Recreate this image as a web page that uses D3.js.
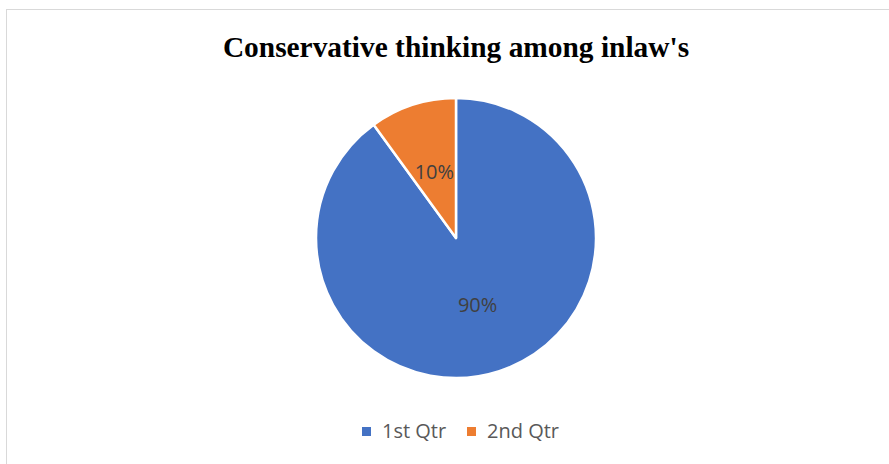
<!DOCTYPE html>
<html>
<head>
<meta charset="utf-8">
<script src="https://cdn.jsdelivr.net/npm/d3@7"></script>
<style>
body{margin:0;background:#fff;}
</style>
</head>
<body>
<div id="chart"></div>
<script>
var categories = ["1st Qtr", "2nd Qtr"];
var values = [90, 10];
var labels = ["90%", "10%"];
var colors = ["#4472C4", "#ED7D31"];

var w = 889, h = 464;
var cx = 456, cy = 238, radius = 140;

var svg = d3.select("#chart").append("svg").attr("width", w).attr("height", h);

// chart frame, runs off the right and bottom edge
svg.append("rect")
    .attr("x", 6.5).attr("y", 9.5)
    .attr("width", 900).attr("height", 480)
    .attr("fill", "#fff")
    .attr("stroke", "#d9d9d9")
    .attr("stroke-width", 1);

svg.append("text")
    .attr("x", 456).attr("y", 57)
    .attr("text-anchor", "middle")
    .style("font-family", "'Liberation Serif', 'Times New Roman', serif")
    .style("font-weight", "bold")
    .style("font-size", "29.4px")
    .attr("fill", "#000")
    .text("Conservative thinking among inlaw's");

var data = categories.map(function(c, i){ return {cat: c, value: values[i], label: labels[i], color: colors[i]}; });

var pie = d3.pie().sort(null).value(function(d){ return d.value; });
var arc = d3.arc().innerRadius(0).outerRadius(radius);

var g = svg.append("g").attr("transform", "translate(" + cx + "," + cy + ")");

g.selectAll("path")
    .data(pie(data))
    .enter()
    .append("path")
    .attr("d", arc)
    .attr("fill", function(d){ return d.data.color; })
    .attr("stroke", "#fff")
    .attr("stroke-width", 2.5)
    .attr("stroke-linejoin", "round");

g.selectAll("text")
    .data(pie(data))
    .enter()
    .append("text")
    .attr("transform", function(d){ return "translate(" + arc.centroid(d) + ")"; })
    .attr("text-anchor", "middle")
    .attr("dy", "0.36em")
    .style("font-family", "'Open Sans', 'Noto Sans', sans-serif")
    .style("font-size", "20px")
    .attr("fill", "#404040")
    .text(function(d){ return d.data.label; });

// legend
var legendX = [362, 467];
var legend = svg.append("g").selectAll("g")
    .data(data)
    .enter()
    .append("g")
    .attr("transform", function(d, i){ return "translate(" + legendX[i] + ",431)"; });

legend.append("rect")
    .attr("x", 0).attr("y", -4)
    .attr("width", 9).attr("height", 9)
    .attr("fill", function(d){ return d.color; });

legend.append("text")
    .attr("x", 20).attr("y", 0)
    .attr("dy", "0.36em")
    .style("font-family", "'Open Sans', 'Noto Sans', sans-serif")
    .style("font-size", "20px")
    .attr("fill", "#595959")
    .text(function(d){ return d.cat; });
</script>
</body>
</html>
